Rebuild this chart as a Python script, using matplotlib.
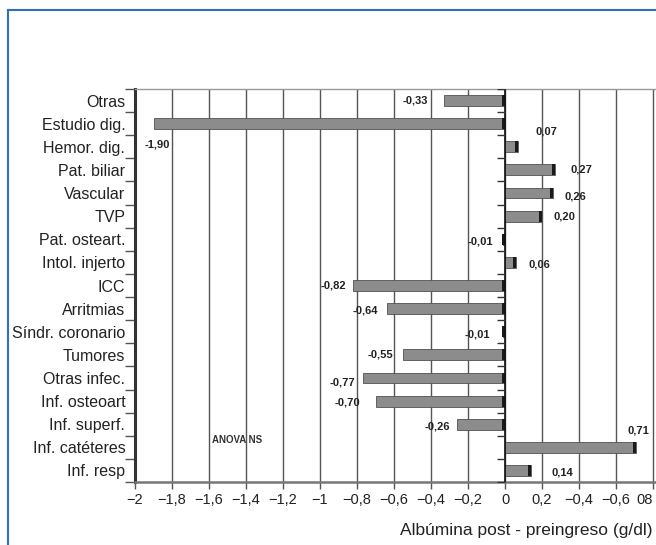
import matplotlib.pyplot as plt
from matplotlib.lines import Line2D

# categories, top to bottom
categorias = ['Otras', 'Estudio dig.', 'Hemor. dig.', 'Pat. biliar', 'Vascular', 'TVP',
              'Pat. osteart.', 'Intol. injerto', 'ICC', 'Arritmias', 'Síndr. coronario',
              'Tumores', 'Otras infec.', 'Inf. osteoart', 'Inf. superf.', 'Inf. catéteres',
              'Inf. resp']
valores = [-0.33, -1.90, 0.07, 0.27, 0.26, 0.20, -0.01, 0.06, -0.82, -0.64, -0.01,
           -0.55, -0.77, -0.70, -0.26, 0.71, 0.14]
etiquetas = ['-0,33', '-1,90', '0,07', '0,27', '0,26', '0,20', '-0,01', '0,06', '-0,82',
             '-0,64', '-0,01', '-0,55', '-0,77', '-0,70', '-0,26', '0,71', '0,14']

xticks = [-2, -1.8, -1.6, -1.4, -1.2, -1, -0.8, -0.6, -0.4, -0.2, 0, 0.2, 0.4, 0.6, 0.8]
xtick_labels = ['−2', '−1,8', '−1,6', '−1,4', '−1,2', '−1', '−0,8', '−0,6', '−0,4',
                '−0,2', '0', '0,2', '−0,4', '−0,6', '08']

# label offsets from bar end (x) and row centre (y)
dx = [-0.156, 0.02, 0.152, 0.141, 0.118, 0.12, -0.125, 0.124, -0.11, -0.117, -0.14,
      -0.126, -0.111, -0.154, -0.108, 0.009, 0.168]
dy = [0.0, 0.92, -0.68, 0.0, 0.13, 0.0, 0.08, 0.08, 0.0, 0.07, 0.1, 0.0, 0.2, 0.05,
      0.09, -0.74, 0.08]

plt.rcParams['font.family'] = ['Liberation Sans', 'DejaVu Sans']

fig = plt.figure(figsize=(6.56, 5.45), dpi=100)
ax = fig.add_axes([135/656, 1-482/545, 1-135/656, (482-89)/545])

filas = list(range(len(categorias)))
ax.barh(filas, valores, height=0.47, color='#8c8c8c', edgecolor='#505050', linewidth=0.6, zorder=3)
# dark cap at right end of each bar
cap = 0.018
ax.barh(filas, [cap]*len(valores), left=[max(v, 0) - cap for v in valores], height=0.47,
        color='#1a1a1a', linewidth=0, zorder=4)

ax.axvline(0, color='#111111', lw=1.2, zorder=4)
ax.plot([0]*(len(filas)+1), [i - 0.5 for i in range(len(filas)+1)], ls='none',
        marker=0, markersize=6, color='#333333', mew=1, zorder=4)

for i, v in enumerate(valores):
    ax.text(v + dx[i], i + dy[i], etiquetas[i], ha='center', va='center',
            fontsize=8, fontweight='bold', color='#222222', zorder=5)

ax.text(-1.45, 14.7, 'ANOVA NS', ha='center', va='center', fontsize=7, fontweight='bold',
        color='#333333')

ax.set_xlim(-2, 0.816)
ax.set_ylim(len(categorias) - 0.5, -0.5)
ax.set_xticks(xticks)
ax.set_xticklabels(xtick_labels, fontsize=10.5, color='#222222')
ax.get_xticklabels()[-1].set_ha('right')
ax.set_yticks(filas)
ax.set_yticklabels(categorias, fontsize=11.5, color='#222222')
ax.set_yticks([i - 0.5 for i in range(len(filas)+1)], minor=True)
ax.tick_params(axis='y', which='major', length=0, pad=7)
ax.tick_params(axis='y', which='minor', length=7, width=1, color='#555555')
ax.tick_params(axis='x', length=5, width=1, color='#555555', pad=3)
ax.grid(axis='x', color='#555555', lw=1, zorder=0)

ax.spines['left'].set_color('#333333')
ax.spines['left'].set_linewidth(2.2)
ax.spines['top'].set_color('#999999')
ax.spines['top'].set_linewidth(1)
ax.spines['bottom'].set_color('#777777')
ax.spines['bottom'].set_linewidth(1.8)
ax.spines['right'].set_visible(False)

fig.text(652/656, 1-530/545, 'Albúmina post - preingreso (g/dl)', ha='right', va='center',
         fontsize=12.5, color='#222222')

# blue frame
fig.add_artist(Line2D([8/656, 8/656], [0, 1-10/545], color='#2f6fc0', lw=1.5))
fig.add_artist(Line2D([8/656, 1], [1-10/545, 1-10/545], color='#2f6fc0', lw=1.5))

fig.savefig('out.png', dpi=100)
